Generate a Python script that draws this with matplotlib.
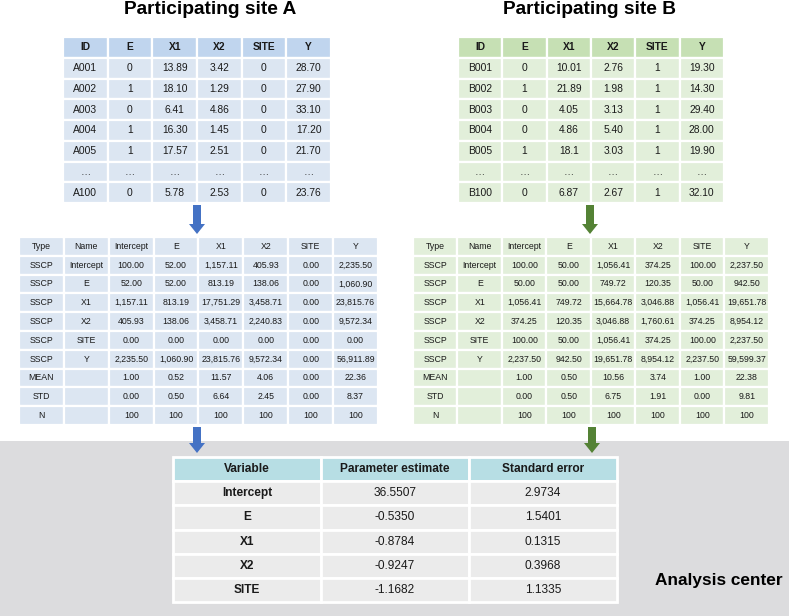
import matplotlib
matplotlib.use("Agg")
import matplotlib.pyplot as plt
from matplotlib.patches import Rectangle, FancyArrow

plt.rcParams['font.family'] = ['Liberation Sans', 'DejaVu Sans']

# ---------------- data ----------------
site_cols = ["ID", "E", "X1", "X2", "SITE", "Y"]
site_a_rows = [
    ["A001", "0", "13.89", "3.42", "0", "28.70"],
    ["A002", "1", "18.10", "1.29", "0", "27.90"],
    ["A003", "0", "6.41", "4.86", "0", "33.10"],
    ["A004", "1", "16.30", "1.45", "0", "17.20"],
    ["A005", "1", "17.57", "2.51", "0", "21.70"],
    ["…", "…", "…", "…", "…", "…"],
    ["A100", "0", "5.78", "2.53", "0", "23.76"],
]
site_b_rows = [
    ["B001", "0", "10.01", "2.76", "1", "19.30"],
    ["B002", "1", "21.89", "1.98", "1", "14.30"],
    ["B003", "0", "4.05", "3.13", "1", "29.40"],
    ["B004", "0", "4.86", "5.40", "1", "28.00"],
    ["B005", "1", "18.1", "3.03", "1", "19.90"],
    ["…", "…", "…", "…", "…", "…"],
    ["B100", "0", "6.87", "2.67", "1", "32.10"],
]
sscp_cols = ["Type", "Name", "Intercept", "E", "X1", "X2", "SITE", "Y"]
sscp_a_rows = [
    ["SSCP", "Intercept", "100.00", "52.00", "1,157.11", "405.93", "0.00", "2,235.50"],
    ["SSCP", "E", "52.00", "52.00", "813.19", "138.06", "0.00", "1,060.90"],
    ["SSCP", "X1", "1,157.11", "813.19", "17,751.29", "3,458.71", "0.00", "23,815.76"],
    ["SSCP", "X2", "405.93", "138.06", "3,458.71", "2,240.83", "0.00", "9,572.34"],
    ["SSCP", "SITE", "0.00", "0.00", "0.00", "0.00", "0.00", "0.00"],
    ["SSCP", "Y", "2,235.50", "1,060.90", "23,815.76", "9,572.34", "0.00", "56,911.89"],
    ["MEAN", "", "1.00", "0.52", "11.57", "4.06", "0.00", "22.36"],
    ["STD", "", "0.00", "0.50", "6.64", "2.45", "0.00", "8.37"],
    ["N", "", "100", "100", "100", "100", "100", "100"],
]
sscp_b_rows = [
    ["SSCP", "Intercept", "100.00", "50.00", "1,056.41", "374.25", "100.00", "2,237.50"],
    ["SSCP", "E", "50.00", "50.00", "749.72", "120.35", "50.00", "942.50"],
    ["SSCP", "X1", "1,056.41", "749.72", "15,664.78", "3,046.88", "1,056.41", "19,651.78"],
    ["SSCP", "X2", "374.25", "120.35", "3,046.88", "1,760.61", "374.25", "8,954.12"],
    ["SSCP", "SITE", "100.00", "50.00", "1,056.41", "374.25", "100.00", "2,237.50"],
    ["SSCP", "Y", "2,237.50", "942.50", "19,651.78", "8,954.12", "2,237.50", "59,599.37"],
    ["MEAN", "", "1.00", "0.50", "10.56", "3.74", "1.00", "22.38"],
    ["STD", "", "0.00", "0.50", "6.75", "1.91", "0.00", "9.81"],
    ["N", "", "100", "100", "100", "100", "100", "100"],
]
result_cols = ["Variable", "Parameter estimate", "Standard error"]
result_vars = ["Intercept", "E", "X1", "X2", "SITE"]
result_est = ["36.5507", "-0.5350", "-0.8784", "-0.9247", "-1.1682"]
result_se = ["2.9734", "1.5401", "0.1315", "0.3968", "1.1335"]

# ---------------- figure ----------------
W, H = 789, 616
fig = plt.figure(figsize=(W / 100, H / 100), dpi=100)
ax = fig.add_axes([0, 0, 1, 1])
ax.set_xlim(0, W)
ax.set_ylim(H, 0)
ax.axis("off")

BLUE_H, BLUE_B = "#c0d5ee", "#dce6f2"
GREEN_H, GREEN_B = "#c6e0b4", "#e2efda"
TEAL_H, GRAY_B = "#b7dee4", "#ebebeb"
BG = "#dcdcde"
ARROW_BLUE, ARROW_GREEN = "#4472c4", "#548235"


def draw_table(x0, x1, y0, y1, header, rows, hcolor, bcolor, fs,
               hbold=True, bold_first_col=False, widths=None, gap=1.6):
    nrows = len(rows) + 1
    ncols = len(header)
    rh = (y1 - y0) / nrows
    if widths is None:
        widths = [1] * ncols
    tot = sum(widths)
    xs = [x0]
    for w in widths:
        xs.append(xs[-1] + (x1 - x0) * w / tot)
    allrows = [header] + rows
    for r, row in enumerate(allrows):
        for c, txt in enumerate(row):
            col = hcolor if r == 0 else bcolor
            ax.add_patch(Rectangle((xs[c], y0 + r * rh), xs[c + 1] - xs[c], rh,
                                   facecolor=col, edgecolor="white", lw=gap))
            weight = "bold" if (r == 0 and hbold) or (c == 0 and bold_first_col and r > 0) else "normal"
            ax.text((xs[c] + xs[c + 1]) / 2, y0 + (r + 0.5) * rh, txt,
                    ha="center", va="center", fontsize=fs, fontweight=weight,
                    color="#1a1a1a")


def arrow(x, ya, yb, color):
    ax.add_patch(FancyArrow(x, ya, 0, yb - ya, width=8, head_width=16,
                            head_length=10, length_includes_head=True,
                            color=color, lw=0))


# background of analysis center
ax.add_patch(Rectangle((0, 441), W, H - 441, facecolor=BG, edgecolor="none"))

# titles
ax.text(210, 10, "Participating site A", ha="center", va="center",
        fontsize=13.8, fontweight="bold")
ax.text(590, 10, "Participating site B", ha="center", va="center",
        fontsize=13.8, fontweight="bold")

# site tables
draw_table(63, 331, 37, 203, site_cols, site_a_rows, BLUE_H, BLUE_B, 7.4)
draw_table(458, 724, 37, 203, site_cols, site_b_rows, GREEN_H, GREEN_B, 7.4)

# arrows
arrow(197, 205, 234, ARROW_BLUE)
arrow(590, 205, 234, ARROW_GREEN)

# SSCP tables
draw_table(19, 378, 237, 425, sscp_cols, sscp_a_rows, BLUE_B, BLUE_B, 6.3, hbold=False)
draw_table(413, 769, 237, 425, sscp_cols, sscp_b_rows, GREEN_B, GREEN_B, 6.3, hbold=False)

arrow(197, 427, 453, ARROW_BLUE)
arrow(592, 427, 453, ARROW_GREEN)

# result table
res_rows = [[v, e, s] for v, e, s in zip(result_vars, result_est, result_se)]
draw_table(173, 617, 457, 602, result_cols, res_rows, TEAL_H, GRAY_B, 8.6,
           bold_first_col=True, gap=2.0)

ax.text(783, 580, "Analysis center", ha="right", va="center",
        fontsize=12.4, fontweight="bold")

fig.savefig("out.png", dpi=100)
